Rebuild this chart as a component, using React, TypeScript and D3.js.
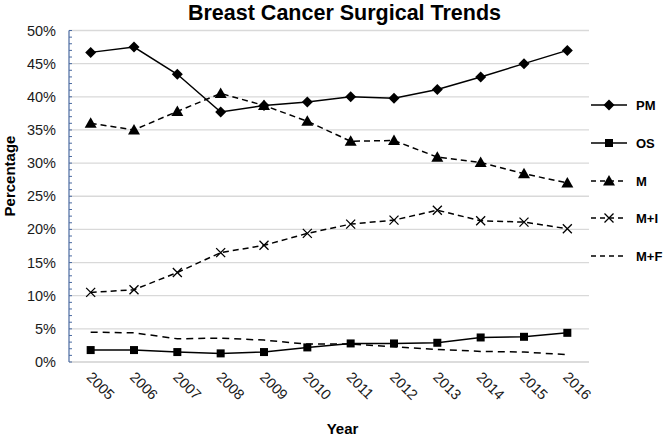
import React from "react";
import * as d3 from "d3";

const years = ["2005","2006","2007","2008","2009","2010","2011","2012","2013","2014","2015","2016"];
const pm = [46.7, 47.5, 43.4, 37.7, 38.7, 39.2, 40.0, 39.8, 41.1, 43.0, 45.0, 47.0];
const os = [1.8, 1.8, 1.5, 1.3, 1.5, 2.2, 2.8, 2.8, 2.9, 3.7, 3.8, 4.4];
const m = [36.0, 35.0, 37.8, 40.5, 38.7, 36.3, 33.3, 33.4, 30.9, 30.1, 28.4, 27.0];
const mi = [10.5, 10.9, 13.5, 16.5, 17.6, 19.4, 20.8, 21.4, 22.9, 21.3, 21.1, 20.1];
const mf = [4.5, 4.4, 3.5, 3.6, 3.3, 2.7, 2.7, 2.3, 1.9, 1.6, 1.5, 1.1];
const yTicks = [0, 5, 10, 15, 20, 25, 30, 35, 40, 45, 50];

const seriesList = [
  { name: "PM", values: pm, dash: "", marker: "diamond" },
  { name: "OS", values: os, dash: "", marker: "square" },
  { name: "M", values: m, dash: "6,4", marker: "triangle" },
  { name: "M+I", values: mi, dash: "6,4", marker: "x" },
  { name: "M+F", values: mf, dash: "7,5", marker: "none" },
];

const font = "'Liberation Sans', Arial, sans-serif";

function Marker({ type, x, y }: { type: string; x: number; y: number }) {
  if (type === "diamond") {
    const s = 5.5;
    return <path d={`M${x},${y - s}L${x + s},${y}L${x},${y + s}L${x - s},${y}Z`} fill="#000" />;
  }
  if (type === "square") {
    return <rect x={x - 4} y={y - 4} width={8} height={8} fill="#000" />;
  }
  if (type === "triangle") {
    return <path d={`M${x},${y - 6}L${x + 6},${y + 4.5}L${x - 6},${y + 4.5}Z`} fill="#000" />;
  }
  if (type === "x") {
    const s = 4.5;
    return (
      <path d={`M${x - s},${y - s}L${x + s},${y + s}M${x + s},${y - s}L${x - s},${y + s}`} stroke="#000" strokeWidth={1.3} fill="none" />
    );
  }
  return null;
}

export default function App() {
  const W = 664, H = 437;
  const left = 69, right = 589, top = 30.5, bottom = 362;
  const x = d3.scaleBand<string>().domain(years).range([left, right]);
  const y = d3.scaleLinear().domain([0, 50]).range([bottom, top]);
  const cx = (yr: string) => (x(yr) as number) + x.bandwidth() / 2;
  const line = d3.line<number>().x((_, i) => cx(years[i])).y((d) => y(d));
  const minor = d3.range(0, 51, 1);
  const legendY = [105, 143, 181, 218, 256];

  return (
    <svg width={W} height={H} style={{ position: "absolute", left: 0, top: 0, background: "#fff" }} fontFamily={font}>
      <rect width={W} height={H} fill="#fff" />
      <text x={344.5} y={19.5} textAnchor="middle" fontSize={21.5} fontWeight="bold">Breast Cancer Surgical Trends</text>
      {yTicks.map((t) => (
        <g key={t}>
          {t > 0 && <line x1={left} x2={right} y1={y(t)} y2={y(t)} stroke="#d9d9d9" strokeWidth={1.3} />}
          <text x={56} y={y(t) + 5} textAnchor="end" fontSize={14.5} fill="#1a1a1a">{t}%</text>
        </g>
      ))}
      <line x1={left} x2={right} y1={bottom} y2={bottom} stroke="#d0d0d0" strokeWidth={1.3} />
      <line x1={left} x2={left} y1={top} y2={bottom} stroke="#4a6aa0" strokeWidth={1.2} />
      {minor.map((t) => (
        <line key={t} x1={left} x2={left + 3} y1={y(t)} y2={y(t)} stroke="#4a6aa0" strokeWidth={1} />
      ))}
      {years.map((yr) => (
        <text key={yr} transform={`translate(${cx(yr) - 5},${378}) rotate(45)`} fontSize={14.5} fill="#1a1a1a">{yr}</text>
      ))}
      <text transform={`translate(15,${176}) rotate(-90)`} textAnchor="middle" fontSize={15} fontWeight="bold">Percentage</text>
      <text x={342.5} y={434} textAnchor="middle" fontSize={15} fontWeight="bold">Year</text>
      {seriesList.map((s) => (
        <g key={s.name}>
          <path d={line(s.values) || ""} fill="none" stroke="#000" strokeWidth={1.5} strokeDasharray={s.dash} />
          {s.values.map((v, i) => (
            <Marker key={i} type={s.marker} x={cx(years[i])} y={y(v)} />
          ))}
        </g>
      ))}
      {seriesList.map((s, i) => (
        <g key={s.name}>
          <line x1={591} x2={627} y1={legendY[i]} y2={legendY[i]} stroke="#000" strokeWidth={1.5} strokeDasharray={s.dash ? "5,4" : ""} />
          <Marker type={s.marker} x={609} y={legendY[i]} />
          <text x={636} y={legendY[i] + 5} fontSize={13} fontWeight="bold">{s.name}</text>
        </g>
      ))}
    </svg>
  );
}
